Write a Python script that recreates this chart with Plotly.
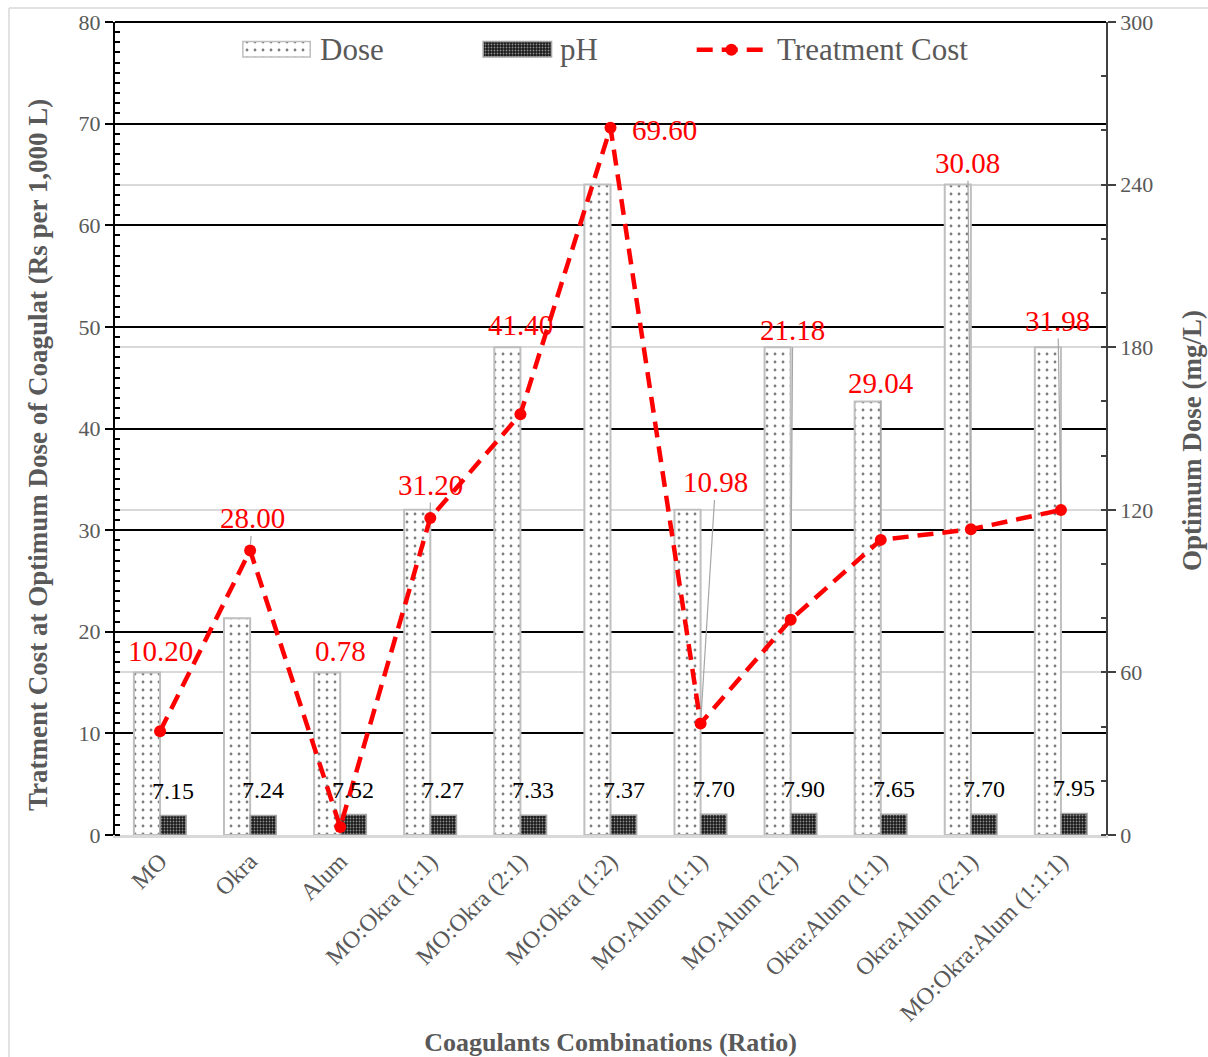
import plotly.graph_objects as go

# ---- data ----
categories = ["MO", "Okra", "Alum", "MO:Okra (1:1)", "MO:Okra (2:1)", "MO:Okra (1:2)",
              "MO:Alum (1:1)", "MO:Alum (2:1)", "Okra:Alum (1:1)", "Okra:Alum (2:1)",
              "MO:Okra:Alum (1:1:1)"]
dose = [60, 80, 60, 120, 180, 240, 120, 180, 160, 240, 180]          # mg/L
ph = [7.15, 7.24, 7.52, 7.27, 7.33, 7.37, 7.70, 7.90, 7.65, 7.70, 7.95]
cost = [10.20, 28.00, 0.78, 31.20, 41.40, 69.60, 10.98, 21.18, 29.04, 30.08, 31.98]

# label offsets (pixels) for the cost labels and whether a leader line is drawn
cost_label_dx = [0, 2, 0, 0, 0, 54, 15, 2, 0, -3, -3]
cost_label_dy = [-80, -32, -176, -33, -89, 2, -241, -290, -157, -366, -189]
cost_leader = [False, True, False, True, False, False, True, True, True, True, True]

FONT = "Liberation Serif"
GREY_TXT = "#595959"
RED = "#FF0000"

DOSE_PATTERN = dict(shape=".", size=8, solidity=0.1, fgcolor="black", bgcolor="white")
PH_PATTERN = dict(shape=".", size=3, solidity=0.3, fgcolor="white", bgcolor="#1a1a1a")

fig = go.Figure()

# bars on the dose axis (right side)
fig.add_trace(go.Bar(
    x=categories, y=dose, name="Dose", yaxis="y", showlegend=False,
    marker=dict(color="white", line=dict(color="#BFBFBF", width=2), pattern=DOSE_PATTERN),
))
fig.add_trace(go.Bar(
    x=categories, y=ph, name="pH", yaxis="y", showlegend=False,
    marker=dict(color="#1a1a1a", line=dict(color="#A6A6A6", width=1.5), pattern=PH_PATTERN),
))

# treatment cost line on the cost axis (left side)
fig.add_trace(go.Scatter(
    x=categories, y=cost, name="Treatment Cost", yaxis="y2", mode="lines+markers",
    showlegend=False,
    line=dict(color=RED, width=4.5, dash="16px,9px"),
    marker=dict(color=RED, size=12, symbol="circle"),
))

# ---- legend key (drawn on a hidden overlay axis at the top of the plot) ----
key_dose = dict(x=0.163, w=0.068, y0=0.957, h=0.019)
key_ph = dict(x=0.406, w=0.069, y0=0.957, h=0.019)
fig.add_trace(go.Bar(
    x=[key_dose["x"]], y=[key_dose["h"]], base=[key_dose["y0"]], width=[key_dose["w"]],
    xaxis="x3", yaxis="y3", showlegend=False, hoverinfo="skip",
    marker=dict(color="white", line=dict(color="#BFBFBF", width=1.5), pattern=DOSE_PATTERN),
))
fig.add_trace(go.Bar(
    x=[key_ph["x"]], y=[key_ph["h"]], base=[key_ph["y0"]], width=[key_ph["w"]],
    xaxis="x3", yaxis="y3", showlegend=False, hoverinfo="skip",
    marker=dict(color="#1a1a1a", line=dict(color="#A6A6A6", width=1.5), pattern=PH_PATTERN),
))
fig.add_trace(go.Scatter(
    x=[0.587, 0.657], y=[0.966, 0.966], xaxis="x3", yaxis="y3", mode="lines",
    showlegend=False, hoverinfo="skip", line=dict(color=RED, width=4.5, dash="16px,9px"),
))
fig.add_trace(go.Scatter(
    x=[0.622], y=[0.966], xaxis="x3", yaxis="y3", mode="markers",
    showlegend=False, hoverinfo="skip", marker=dict(color=RED, size=12),
))

annotations = []
for txt, xpos in [("Dose", 0.205), ("pH", 0.447), ("Treatment Cost", 0.666)]:
    annotations.append(dict(
        text=txt, x=xpos, y=0.966, xref="x3", yref="y3", xanchor="left", yanchor="middle",
        showarrow=False, font=dict(family=FONT, size=31, color=GREY_TXT),
    ))

# cost value labels
for c, v, dx, dy, lead in zip(categories, cost, cost_label_dx, cost_label_dy, cost_leader):
    annotations.append(dict(
        x=c, y=v, xref="x", yref="y2", text=f"{v:.2f}", showarrow=True,
        ax=dx, ay=dy, arrowhead=0, arrowwidth=1.2, standoff=6,
        arrowcolor="#A6A6A6" if lead else "rgba(0,0,0,0)",
        font=dict(family=FONT, size=29, color=RED),
    ))

# pH value labels above the pH bars
for c, v in zip(categories, ph):
    annotations.append(dict(
        x=c, y=v, xref="x", yref="y", text=f"{v:.2f}", showarrow=False,
        xshift=13, yshift=25, yanchor="middle",
        font=dict(family=FONT, size=24, color="black"),
    ))

# plot-area pixel geometry (for titles and the chart-area frame)
PL, PR, PT, PB = 115, 1106, 22, 835
def px_x(p):
    return (p - PL) / (PR - PL)
def px_y(p):
    return (PB - p) / (PB - PT)

title_font = dict(family=FONT, size=27, color=GREY_TXT)

# vertical axis titles
annotations.append(dict(
    text="<b>Tratment Cost at Optimum Dose of Coagulat (Rs per 1,000 L)</b>",
    x=px_x(38), y=px_y(455), xref="paper", yref="paper", textangle=-90,
    xanchor="center", yanchor="middle", showarrow=False, font=title_font,
))
annotations.append(dict(
    text="<b>Optimum Dose (mg/L)</b>",
    x=px_x(1192), y=px_y(441), xref="paper", yref="paper", textangle=-90,
    xanchor="center", yanchor="middle", showarrow=False, font=title_font,
))

shapes = [
    # top border of the plot area
    dict(type="line", xref="paper", yref="paper", x0=0, x1=1, y0=1, y1=1,
         line=dict(color="black", width=2)),
    # chart-area frame (top and left edges)
    dict(type="line", xref="paper", yref="paper", x0=px_x(9), x1=px_x(1300), y0=px_y(8), y1=px_y(8),
         line=dict(color="#D9D9D9", width=1.5)),
    dict(type="line", xref="paper", yref="paper", x0=px_x(9), x1=px_x(9), y0=px_y(8), y1=px_y(1200),
         line=dict(color="#D9D9D9", width=1.5)),
]

ytick_font = dict(family=FONT, size=22, color=GREY_TXT)
xtick_font = dict(family=FONT, size=24, color=GREY_TXT)

fig.update_layout(
    width=1208, height=1057,
    margin=dict(l=PL, r=1208 - PR, t=PT, b=1057 - PB, autoexpand=False),
    paper_bgcolor="white", plot_bgcolor="white",
    barmode="group", bargap=0.42, bargroupgap=0,
    showlegend=False,
    xaxis=dict(
        type="category", categoryorder="array", categoryarray=categories,
        range=[-0.5, len(categories) - 0.5],
        tickangle=-45, tickfont=xtick_font, ticks="",
        showline=True, linecolor="#D9D9D9", linewidth=2.5, showgrid=False,
        title=dict(text="<b>Coagulants Combinations (Ratio)</b>",
                   font=dict(family=FONT, size=26, color=GREY_TXT), standoff=16),
    ),
    yaxis=dict(
        side="right", range=[0, 300], tickvals=[0, 60, 120, 180, 240, 300],
        tickfont=ytick_font, showgrid=True, gridcolor="#D9D9D9", gridwidth=2,
        showline=True, linecolor="#404040", linewidth=1.5,
        ticks="outside", ticklen=8, tickcolor="#404040", tickwidth=1.5,
        minor=dict(ticks="inside", ticklen=5, dtick=20, tickcolor="#404040", showgrid=False),
        zeroline=False,
    ),
    yaxis2=dict(
        side="left", overlaying="y", range=[0, 80], dtick=10,
        tickfont=ytick_font, showgrid=True, gridcolor="black", gridwidth=1.8,
        showline=True, linecolor="black", linewidth=2,
        ticks="outside", ticklen=8, tickcolor="black", tickwidth=1.5,
        minor=dict(ticks="inside", ticklen=5, dtick=1, tickcolor="black", showgrid=False),
        zeroline=False,
    ),
    xaxis3=dict(overlaying="x", range=[0, 1], visible=False, fixedrange=True),
    yaxis3=dict(overlaying="y", range=[0, 1], visible=False, fixedrange=True, anchor="x3"),
    annotations=annotations,
    shapes=shapes,
)

fig.write_html("out.html")
